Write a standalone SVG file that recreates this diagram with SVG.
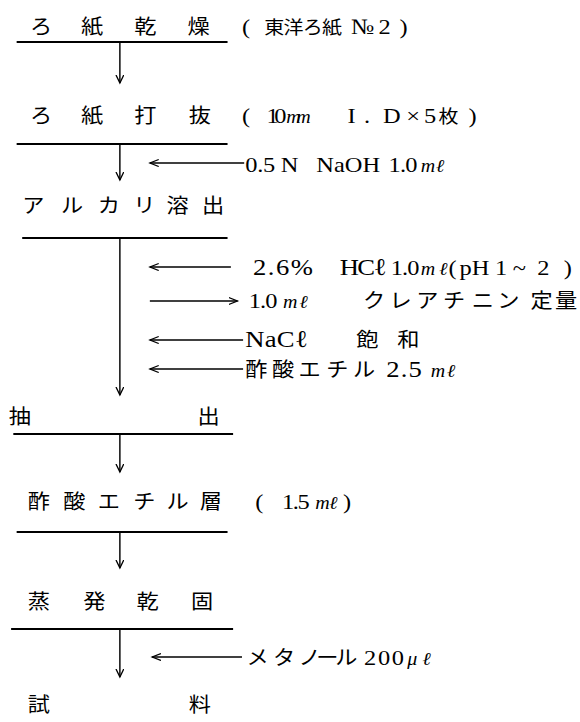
<svg xmlns="http://www.w3.org/2000/svg" width="580" height="722" viewBox="0 0 580 722">
<defs>
<style>
.j{font-family:"Noto Sans CJK JP",sans-serif;font-size:20px;fill:#000}
.js{font-family:"Noto Sans CJK JP",sans-serif;font-size:18px;fill:#000}
.r{font-family:"Liberation Serif","Noto Sans CJK JP",serif;font-size:22px;fill:#000}
.rb{font-family:"Liberation Serif","Noto Sans CJK JP",serif;font-size:24px;fill:#000}
.m{font-family:"Liberation Serif",serif;font-style:italic;font-size:18px;fill:#000}
.ul{stroke:#000;stroke-width:2}
.c{stroke:#000;stroke-width:1.3;fill:none}
</style>
<marker id="ah" markerUnits="userSpaceOnUse" markerWidth="10" markerHeight="10" refX="8" refY="4" orient="auto">
<path d="M0,0.5 L8,4 L0,7.5" fill="none" stroke="#000" stroke-width="1.2"/>
</marker>
</defs>
<rect width="580" height="722" fill="#fff"/>
<g transform="scale(1.11 1)">

<g id="n1">
<text class="j" x="27 73 121 169" y="34">ろ紙乾燥</text>
<text class="r" x="218" y="34">(</text>
<text class="js" x="238" y="34" textLength="70">東洋ろ紙</text>
<text class="r" x="316" y="34">№</text>
<text class="r" x="341" y="34">2</text>
<text class="r" x="360" y="34">)</text>
<line class="ul" x1="15" y1="42" x2="205" y2="42"/>
</g>

<g id="n2">
<text class="j" x="27 73 121 170" y="123">ろ紙打抜</text>
<text class="r" x="218" y="123">(</text>
<text class="r" x="240" y="123" textLength="18">10</text>
<text class="m" x="258" y="123" font-size="14" textLength="22">mm</text>
<text class="r" x="313" y="123">I</text>
<text class="r" x="328" y="123">.</text>
<text class="r" x="345" y="123">D</text>
<text class="r" x="366" y="123">×</text>
<text class="r" x="382" y="123">5</text>
<text class="js" x="395" y="123">枚</text>
<text class="r" x="422" y="123">)</text>
<line class="ul" x1="15" y1="144" x2="205" y2="144"/>
</g>

<g id="n3">
<text class="j" x="20 55 88 120 150 182" y="213">アルカリ溶出</text>
<line class="ul" x1="20" y1="238" x2="205" y2="238"/>
</g>

<g id="n4">
<text class="j" x="8" y="424">抽</text>
<text class="j" x="178" y="424">出</text>
<line class="ul" x1="12" y1="434" x2="210" y2="434"/>
</g>

<g id="n5">
<text class="j" x="25 57 88 120 150 180" y="509">酢酸エチル層</text>
<text class="r" x="230" y="509">(</text>
<text class="r" x="254" y="509" textLength="25">1.5</text>
<text class="m" x="284" y="509" textLength="20">mℓ</text>
<text class="r" x="309" y="509">)</text>
<line class="ul" x1="15" y1="532" x2="205" y2="532"/>
</g>

<g id="n6">
<text class="j" x="25 75 123 172" y="609">蒸発乾固</text>
<line class="ul" x1="10" y1="629" x2="210" y2="629"/>
</g>

<g id="n7">
<text class="j" x="25" y="712">試</text>
<text class="j" x="170" y="712">料</text>
</g>

<g id="inputs">
<text class="r" x="221" y="172" textLength="27">0.5</text>
<text class="r" x="253" y="172">N</text>
<text class="r" x="285" y="172">NaOH</text>
<text class="r" x="350" y="172" textLength="26">1.0</text>
<text class="m" x="379" y="172" textLength="21">mℓ</text>

<text class="rb" x="228" y="275" textLength="54">2.6%</text>
<text class="rb" x="306" y="275" textLength="42">HCℓ</text>
<text class="r" x="352" y="275" textLength="26">1.0</text>
<text class="m" x="379" y="275" textLength="24">mℓ</text>
<text class="r" x="404" y="275">(</text>
<text class="r" x="414" y="275" textLength="27">pH</text>
<text class="r" x="446" y="275">1</text>
<text class="r" x="462" y="275">~</text>
<text class="r" x="484" y="275">2</text>
<text class="r" x="508" y="275">)</text>

<text class="r" x="224" y="308" textLength="26">1.0</text>
<text class="m" x="255" y="308" textLength="22">mℓ</text>
<text class="j" x="327 351 375 399 425 448 478 500" y="308">クレアチニン定量</text>

<text class="rb" x="221" y="347" textLength="56">NaCℓ</text>
<text class="j" x="321 358" y="347">飽和</text>

<text class="j" x="221 245 269 294 318" y="377">酢酸エチル</text>
<text class="rb" x="348" y="377" textLength="32">2.5</text>
<text class="m" x="388" y="377" textLength="22">mℓ</text>

<text class="j" x="222 246 269 285 302" y="665">メタノール</text>
<text class="r" x="328" y="665" textLength="36">200</text>
<text class="m" x="367" y="665" font-size="20" textLength="21">μℓ</text>
</g>

<g id="connectors">
<line class="c" x1="108" y1="42" x2="108" y2="83" marker-end="url(#ah)"/>
<line class="c" x1="108" y1="144" x2="108" y2="180" marker-end="url(#ah)"/>
<line class="c" x1="108" y1="238" x2="108" y2="395" marker-end="url(#ah)"/>
<line class="c" x1="108" y1="434" x2="108" y2="472" marker-end="url(#ah)"/>
<line class="c" x1="108" y1="532" x2="108" y2="568" marker-end="url(#ah)"/>
<line class="c" x1="108" y1="629" x2="108" y2="677" marker-end="url(#ah)"/>
<line class="c" x1="220" y1="163" x2="135" y2="163" marker-end="url(#ah)"/>
<line class="c" x1="208" y1="267" x2="135" y2="267" marker-end="url(#ah)"/>
<line class="c" x1="135" y1="301" x2="214" y2="301" marker-end="url(#ah)"/>
<line class="c" x1="219" y1="340" x2="135" y2="340" marker-end="url(#ah)"/>
<line class="c" x1="219" y1="369" x2="135" y2="369" marker-end="url(#ah)"/>
<line class="c" x1="218" y1="657" x2="137" y2="657" marker-end="url(#ah)"/>
</g>
</g>
</svg>
